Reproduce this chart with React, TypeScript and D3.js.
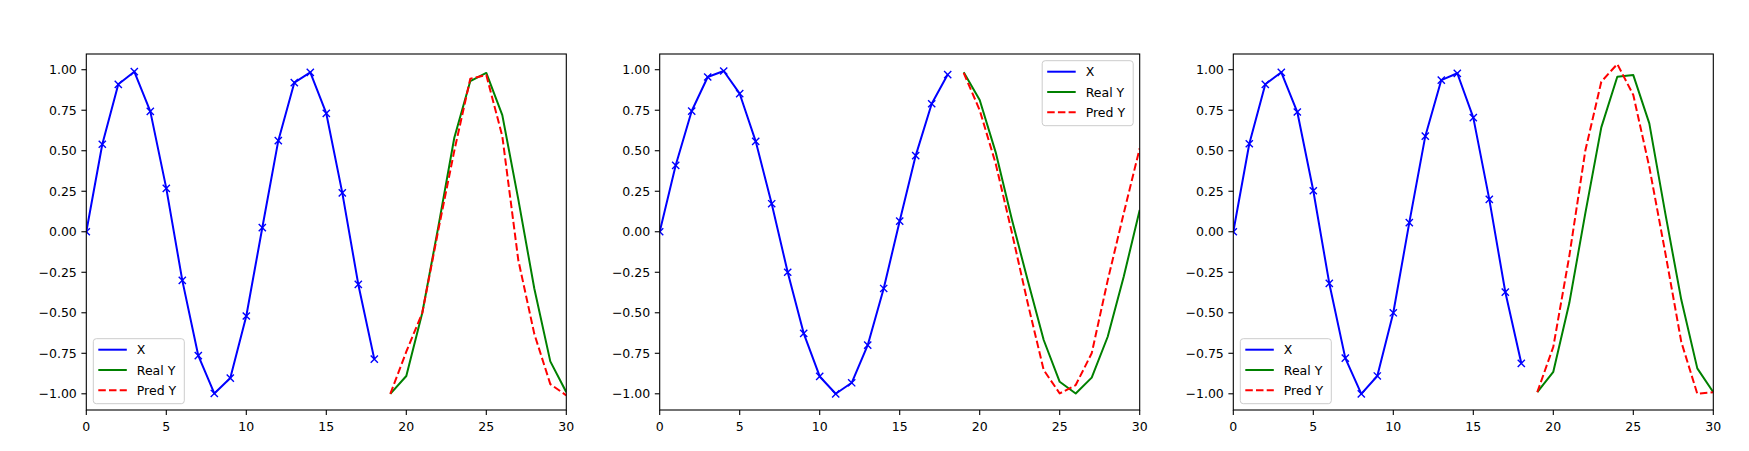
import React from 'react';
import * as d3 from 'd3';

// time steps
const X_STEPS = [0, 1, 2, 3, 4, 5, 6, 7, 8, 9, 10, 11, 12, 13, 14, 15, 16, 17, 18];
const Y_STEPS = [19, 20, 21, 22, 23, 24, 25, 26, 27, 28, 29, 30];

const X_TICKS = [0, 5, 10, 15, 20, 25, 30];
const Y_TICKS = [-1.0, -0.75, -0.5, -0.25, 0.0, 0.25, 0.5, 0.75, 1.0];

// panel 1
const p1X = [0, 0.54, 0.91, 0.988, 0.743, 0.268, -0.3, -0.765, -0.998, -0.903, -0.52, 0.025, 0.562, 0.92, 0.984, 0.73, 0.24, -0.325, -0.786];
const p1Real = [-1.0, -0.89, -0.5, 0.03, 0.58, 0.93, 0.98, 0.72, 0.2, -0.35, -0.8, -0.99];
const p1Pred = [-1.0, -0.74, -0.5, 0.01, 0.5, 0.945, 0.967, 0.59, -0.175, -0.63, -0.94, -1.01];

// panel 2
const p2X = [0, 0.41, 0.745, 0.955, 0.992, 0.852, 0.558, 0.173, -0.25, -0.627, -0.893, -1.0, -0.932, -0.7, -0.35, 0.066, 0.47, 0.79, 0.97];
const p2Real = [0.984, 0.813, 0.49, 0.08, -0.3, -0.668, -0.926, -0.998, -0.9, -0.648, -0.278, 0.134];
const p2Pred = [0.98, 0.75, 0.42, 0.0, -0.44, -0.853, -0.998, -0.946, -0.75, -0.3, 0.113, 0.515];

// panel 3
const p3X = [0, 0.543, 0.91, 0.984, 0.739, 0.253, -0.319, -0.78, -1.0, -0.89, -0.5, 0.056, 0.59, 0.936, 0.978, 0.704, 0.2, -0.372, -0.812];
const p3Real = [-0.99, -0.864, -0.44, 0.113, 0.644, 0.957, 0.967, 0.669, 0.113, -0.42, -0.843, -0.99];
const p3Pred = [-0.99, -0.71, -0.15, 0.5, 0.926, 1.035, 0.844, 0.4, -0.13, -0.68, -1.0, -0.99];

const panels = [
  { x: p1X, real: p1Real, pred: p1Pred, legend: 'lower left' },
  { x: p2X, real: p2Real, pred: p2Pred, legend: 'upper right' },
  { x: p3X, real: p3Real, pred: p3Pred, legend: 'lower left' },
];

const LEFTS = [86.3, 659.7, 1233.3];
const PLOT_W = 480;
const TOP = 54;
const BOTTOM = 410;
const FONT = 'DejaVu Sans, sans-serif';
const FS = 12.5;

const legendItems = [
  { label: 'X', color: '#0000ff', dash: undefined as string | undefined },
  { label: 'Real Y', color: '#008000', dash: undefined as string | undefined },
  { label: 'Pred Y', color: '#ff0000', dash: '7.5,3.2' },
];

const fmt = (v: number) => v.toFixed(2).replace('-', '\u2212');

function Panel({ data, left }: { data: typeof panels[number]; left: number }) {
  const xScale = d3.scaleLinear().domain([0, 30]).range([left, left + PLOT_W]);
  const yScale = d3.scaleLinear().domain([-1.1, 1.097]).range([BOTTOM, TOP]);

  const line = d3.line<[number, number]>()
    .x(d => xScale(d[0]))
    .y(d => yScale(d[1]));

  const xPts: [number, number][] = X_STEPS.map((s, i) => [s, data.x[i]]);
  const realPts: [number, number][] = Y_STEPS.map((s, i) => [s, data.real[i]]);
  const predPts: [number, number][] = Y_STEPS.map((s, i) => [s, data.pred[i]]);

  const lw = 91, lh = 65;
  const lx = data.legend === 'upper right' ? left + PLOT_W - 6.5 - lw : left + 7;
  const ly = data.legend === 'upper right' ? TOP + 6.7 : BOTTOM - 6.3 - lh;

  const ms = 3.6;

  return (
    <g>
      <defs>
        <clipPath id={`clip-${left}`}>
          <rect x={left} y={TOP} width={PLOT_W} height={BOTTOM - TOP} />
        </clipPath>
      </defs>
      <g clipPath={`url(#clip-${left})`}>
        <path d={line(xPts) || ''} fill="none" stroke="#0000ff" strokeWidth={2} strokeLinejoin="round" />
        {xPts.map((p, i) => (
          <path
            key={i}
            d={`M${xScale(p[0]) - ms},${yScale(p[1]) - ms}L${xScale(p[0]) + ms},${yScale(p[1]) + ms}M${xScale(p[0]) - ms},${yScale(p[1]) + ms}L${xScale(p[0]) + ms},${yScale(p[1]) - ms}`}
            stroke="#0000ff"
            strokeWidth={1.4}
          />
        ))}
        <path d={line(realPts) || ''} fill="none" stroke="#008000" strokeWidth={2} strokeLinejoin="round" />
        <path d={line(predPts) || ''} fill="none" stroke="#ff0000" strokeWidth={2} strokeDasharray="7.5,3.2" strokeLinejoin="round" />
      </g>

      {/* axes frame */}
      <rect x={left} y={TOP} width={PLOT_W} height={BOTTOM - TOP} fill="none" stroke="#000" strokeWidth={1.1} />

      {X_TICKS.map(t => (
        <g key={`xt${t}`}>
          <line x1={xScale(t)} x2={xScale(t)} y1={BOTTOM} y2={BOTTOM + 4.9} stroke="#000" strokeWidth={1.1} />
          <text x={xScale(t)} y={BOTTOM + 20.5} textAnchor="middle" fontFamily={FONT} fontSize={FS} fill="#000">{t}</text>
        </g>
      ))}
      {Y_TICKS.map(t => (
        <g key={`yt${t}`}>
          <line x1={left - 4.9} x2={left} y1={yScale(t)} y2={yScale(t)} stroke="#000" strokeWidth={1.1} />
          <text x={left - 9.5} y={yScale(t) + 4.5} textAnchor="end" fontFamily={FONT} fontSize={FS} fill="#000">{fmt(t)}</text>
        </g>
      ))}

      {/* legend */}
      <rect x={lx} y={ly} width={lw} height={lh} rx={3} fill="#fff" fillOpacity={0.8} stroke="#cccccc" strokeWidth={1} />
      {legendItems.map((it, i) => (
        <g key={it.label}>
          <line
            x1={lx + 5}
            x2={lx + 33.5}
            y1={ly + 11 + i * 20.3}
            y2={ly + 11 + i * 20.3}
            stroke={it.color}
            strokeWidth={2}
            strokeDasharray={it.dash}
          />
          <text x={lx + 43.5} y={ly + 15.5 + i * 20.3} fontFamily={FONT} fontSize={FS} fill="#000">{it.label}</text>
        </g>
      ))}
    </g>
  );
}

export default function App() {
  return (
    <svg
      width={1749}
      height={451}
      style={{ position: 'absolute', left: 0, top: 0, background: '#fff' }}
    >
      <rect x={0} y={0} width={1749} height={451} fill="#fff" />
      {panels.map((p, i) => (
        <Panel key={i} data={p} left={LEFTS[i]} />
      ))}
    </svg>
  );
}
